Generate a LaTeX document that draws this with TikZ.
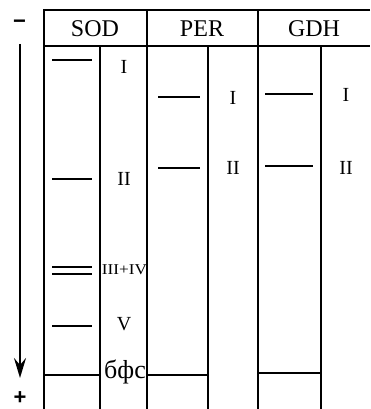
\documentclass[tikz,border=0pt]{standalone}
\usepackage{fontspec}
\setmainfont{Liberation Serif}
\newfontfamily\signfont{Liberation Sans}
\usetikzlibrary{arrows.meta}
\begin{document}
\begin{tikzpicture}[x=1pt,y=-1pt,
  grid/.style={line width=2.1pt},
  band/.style={line width=2.6pt},
  head/.style={font=\fontsize{24}{24}\selectfont, inner sep=0pt},
  lab/.style={font=\fontsize{20}{20}\selectfont, inner sep=0pt},
  sign/.style={font=\signfont\bfseries\fontsize{22}{22}\selectfont, inner sep=0pt}]
\useasboundingbox (0,0) rectangle (370,409);
% table frame
\draw[grid] (370,10) -- (44,10) -- (44,409);
\draw[grid] (44,46) -- (370,46);
\draw[grid] (147,10) -- (147,409);
\draw[grid] (258,10) -- (258,409);
\draw[grid] (100,46) -- (100,409);
\draw[grid] (208,46) -- (208,409);
\draw[grid] (321,46) -- (321,409);
% headers
\node[head] (sod) at (95,29) {SOD};
\node[head] (per) at (202,29) {PER};
\node[head] (gdh) at (314,29) {GDH};
% SOD bands
\draw[band] (52,60) -- (92,60);
\draw[band] (52,179) -- (92,179);
\draw[band] (52,267) -- (92,267);
\draw[band] (52,274) -- (92,274);
\draw[band] (52,326) -- (92,326);
\draw[grid] (44,375) -- (100,375);
\node[lab] (s1) at (124,67) {I};
\node[lab] (s2) at (124,179) {II};
\node[inner sep=0pt, xscale=1.15, font=\fontsize{15}{15}\selectfont] (s34) at (124.5,270) {III+IV};
\node[lab] (s5) at (124,324) {V};
\node[inner sep=0pt, font=\fontsize{26}{26}\selectfont] (bfs) at (125,372) {бфс};
% PER bands
\draw[band] (158,97) -- (200,97);
\draw[band] (158,168) -- (200,168);
\draw[grid] (147,375) -- (208,375);
\node[lab] (p1) at (233,98) {I};
\node[lab] (p2) at (233,168) {II};
% GDH bands
\draw[band] (265,94) -- (313,94);
\draw[band] (265,166) -- (313,166);
\draw[grid] (258,373) -- (321,373);
\node[lab] (g1) at (346,95) {I};
\node[lab] (g2) at (346,168) {II};
% direction arrow
\node[sign] (minus) at (19.5,24) {\textminus};
\node[sign] (plus) at (20,398) {+};
\coordinate (atop) at (20,44);
\coordinate (abot) at (20,378);
\draw[line width=2.4pt, -{Stealth[length=20pt, width=12pt, inset=7pt]}] (atop) -- (abot);
\end{tikzpicture}
\end{document}
